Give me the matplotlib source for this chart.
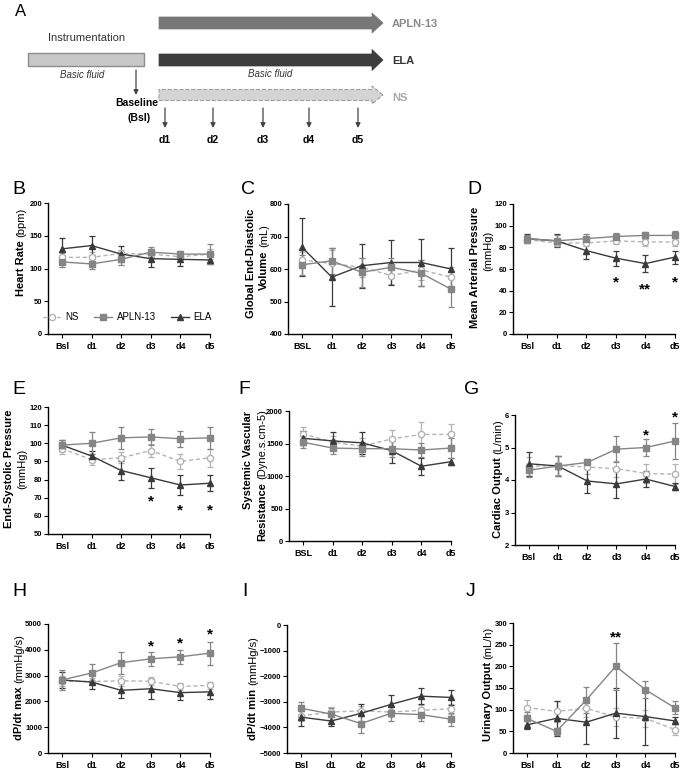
import numpy as np
import matplotlib
matplotlib.use('Agg')
import matplotlib.pyplot as plt
from matplotlib.patches import FancyArrow, Rectangle
from matplotlib.lines import Line2D

plt.rcParams['font.family'] = ['Liberation Sans', 'DejaVu Sans']

W, H = 685, 772

days = ['Bsl', 'd1', 'd2', 'd3', 'd4', 'd5']
days_caps = ['BSL', 'd1', 'd2', 'd3', 'd4', 'd5']
groups = ['NS', 'APLN-13', 'ELA']

# B - heart rate (bpm)
hr_ns = [117, 117, 123, 122, 118, 122]
hr_ns_err = [7, 8, 6, 7, 5, 8]
hr_apln = [110, 107, 114, 125, 122, 122]
hr_apln_err = [8, 8, 9, 8, 5, 15]
hr_ela = [130, 135, 122, 115, 114, 113]
hr_ela_err = [16, 14, 12, 13, 10, 6]

# C - global end-diastolic volume (mL)
gedv_ns = [628, 617, 605, 580, 597, 575]
gedv_ns_err = [25, 40, 30, 25, 30, 30]
gedv_apln = [613, 625, 590, 605, 587, 538]
gedv_apln_err = [30, 40, 45, 30, 40, 55]
gedv_ela = [667, 575, 610, 620, 620, 600]
gedv_ela_err = [90, 90, 68, 70, 73, 65]

# D - mean arterial pressure (mmHg)
map_ns = [87, 84, 84, 86, 85, 85]
map_ns_err = [3, 3, 3, 3, 4, 4]
map_apln = [88, 86, 88, 90, 91, 91]
map_apln_err = [3, 5, 4, 3, 3, 4]
map_ela = [88, 86, 77, 70, 65, 71]
map_ela_err = [4, 6, 8, 7, 7.5, 6]

# E - end-systolic pressure (mmHg)
esp_ns = [97, 91, 92, 96, 90, 92]
esp_ns_err = [3, 3, 3, 3.5, 4, 5]
esp_apln = [99, 100, 103, 103.5, 102.5, 103]
esp_apln_err = [3, 6, 6, 4.5, 4.5, 6]
esp_ela = [99, 93, 85, 81, 77, 78]
esp_ela_err = [3, 3, 5, 5.5, 5.5, 4.5]

# F - systemic vascular resistance
svr_ns = [1650, 1520, 1460, 1570, 1640, 1640]
svr_ns_err = [110, 100, 120, 140, 190, 160]
svr_apln = [1520, 1430, 1420, 1420, 1400, 1430]
svr_apln_err = [90, 90, 110, 120, 110, 150]
svr_ela = [1580, 1540, 1510, 1390, 1150, 1220]
svr_ela_err = [110, 140, 170, 190, 130, 50]

# G - cardiac output (L/min)
co_ns = [4.42, 4.45, 4.4, 4.35, 4.2, 4.18]
co_ns_err = [0.3, 0.3, 0.2, 0.25, 0.3, 0.3]
co_apln = [4.3, 4.43, 4.54, 4.95, 5.0, 5.2]
co_apln_err = [0.2, 0.3, 0.1, 0.4, 0.25, 0.55]
co_ela = [4.5, 4.43, 3.97, 3.88, 4.03, 3.8]
co_ela_err = [0.37, 0.3, 0.38, 0.42, 0.25, 0.1]

# H - dP/dt max (mmHg/s)
dpmax_ns = [2780, 2770, 2800, 2780, 2580, 2620]
dpmax_ns_err = [200, 150, 200, 150, 150, 120]
dpmax_apln = [2830, 3100, 3500, 3650, 3730, 3870]
dpmax_apln_err = [400, 350, 430, 280, 270, 440]
dpmax_ela = [2830, 2750, 2430, 2490, 2340, 2370]
dpmax_ela_err = [300, 280, 300, 380, 300, 280]

# I - dP/dt min (mmHg/s)
dpmin_ns = [-3550, -3400, -3350, -3400, -3330, -3270]
dpmin_ns_err = [200, 200, 200, 200, 200, 200]
dpmin_apln = [-3250, -3480, -3850, -3450, -3500, -3680]
dpmin_apln_err = [250, 250, 350, 300, 250, 250]
dpmin_ela = [-3600, -3750, -3450, -3100, -2780, -2830]
dpmin_ela_err = [350, 200, 350, 380, 300, 280]

# J - urinary output (mL/h)
uo_ns = [105, 96, 103, 83, 80, 54]
uo_ns_err = [18, 25, 20, 20, 20, 12]
uo_apln = [80, 50, 122, 200, 146, 104]
uo_apln_err = [15, 8, 30, 55, 20, 15]
uo_ela = [65, 80, 71, 92, 84, 74]
uo_ela_err = [10, 40, 50, 58, 65, 8]

# significance marks: (day index, text, y)
map_stars = [(3, '*', 52), (4, '**', 46), (5, '*', 52)]
esp_stars = [(3, '*', 70.5), (4, '*', 66), (5, '*', 66)]
co_stars = [(4, '*', 5.52), (5, '*', 6.07)]
dpmax_stars = [(3, '*', 4325), (4, '*', 4430), (5, '*', 4780)]
uo_stars = [(3, '**', 279)]

c_ns, c_apln, c_ela = '#b4b4b4', '#858585', '#3a3a3a'

fig = plt.figure(figsize=(W / 100, H / 100), dpi=100)


def px_axes(l, t, r, b):
    return fig.add_axes([l / W, 1 - b / H, (r - l) / W, (b - t) / H])


def series(ax, y, e, color, marker, mfc, ls, ms):
    x = np.arange(len(y))
    c = ax.errorbar(x, y, yerr=e, color=color, ecolor=color, marker=marker,
                    mfc=mfc, mec=color, ms=ms, ls=ls, lw=1.0, elinewidth=0.9,
                    capsize=2, capthick=0.9)
    if ls == '--':
        c.lines[0].set_dashes([3, 2])
    for a in c.get_children():
        a.set_clip_on(False)


def panel(box, ns, apln, ela, ylim, yticks, xlab=days):
    ax = px_axes(*box)
    series(ax, ns[0], ns[1], c_ns, 'o', 'white', '--', 4.5)
    series(ax, ela[0], ela[1], c_ela, '^', c_ela, '-', 4.5)
    series(ax, apln[0], apln[1], c_apln, 's', c_apln, '-', 4.3)
    ax.set_xlim(-0.47, 5)
    ax.set_ylim(*ylim)
    ax.set_yticks(yticks)
    ax.set_xticks(range(6))
    ax.set_xticklabels(xlab, fontweight='bold', fontsize=6.5)
    for t in ax.get_yticklabels():
        t.set_fontweight('bold')
        t.set_fontsize(5.5)
    ax.tick_params(length=3, width=0.8, pad=1.2)
    ax.tick_params(axis='x', pad=3)
    for s in ['top', 'right']:
        ax.spines[s].set_visible(False)
    for s in ['left', 'bottom']:
        ax.spines[s].set_linewidth(1.0)
    return ax


def stars(ax, marks):
    for i, s, y in marks:
        ax.annotate(s, (i, y), xytext=(0, -6.5), textcoords='offset points',
                    ha='center', va='baseline', fontsize=11, fontweight='bold',
                    annotation_clip=False)


axB = panel((48, 203, 210, 334), (hr_ns, hr_ns_err), (hr_apln, hr_apln_err),
            (hr_ela, hr_ela_err), (0, 200), range(0, 201, 50))
axC = panel((288, 204, 451, 334), (gedv_ns, gedv_ns_err), (gedv_apln, gedv_apln_err),
            (gedv_ela, gedv_ela_err), (400, 800), range(400, 801, 100), days_caps)
axD = panel((513, 204, 675, 334), (map_ns, map_ns_err), (map_apln, map_apln_err),
            (map_ela, map_ela_err), (0, 120), range(0, 121, 20))
axE = panel((48, 407, 210, 534), (esp_ns, esp_ns_err), (esp_apln, esp_apln_err),
            (esp_ela, esp_ela_err), (50, 120), range(50, 121, 10))
axF = panel((289, 411, 451, 541), (svr_ns, svr_ns_err), (svr_apln, svr_apln_err),
            (svr_ela, svr_ela_err), (0, 2000), range(0, 2001, 500), days_caps)
axG = panel((515, 415, 675, 545), (co_ns, co_ns_err), (co_apln, co_apln_err),
            (co_ela, co_ela_err), (2, 6), range(2, 7))
axH = panel((48, 624, 210, 753), (dpmax_ns, dpmax_ns_err), (dpmax_apln, dpmax_apln_err),
            (dpmax_ela, dpmax_ela_err), (0, 5000), range(0, 5001, 1000))
axI = panel((287, 625, 451, 753), (dpmin_ns, dpmin_ns_err), (dpmin_apln, dpmin_apln_err),
            (dpmin_ela, dpmin_ela_err), (-5000, 0), range(-5000, 1, 1000))
axJ = panel((513, 623, 675, 753), (uo_ns, uo_ns_err), (uo_apln, uo_apln_err),
            (uo_ela, uo_ela_err), (0, 300), range(0, 301, 50))

stars(axD, map_stars)
stars(axE, esp_stars)
stars(axG, co_stars)
stars(axH, dpmax_stars)
stars(axJ, uo_stars)

# legend in B
handles = [
    Line2D([], [], color=c_ns, ls='--', dashes=[3, 2], marker='o', mfc='white', mec=c_ns, ms=4.5, lw=1),
    Line2D([], [], color=c_apln, marker='s', mfc=c_apln, mec=c_apln, ms=4.3, lw=1),
    Line2D([], [], color=c_ela, marker='^', mfc=c_ela, mec=c_ela, ms=4.5, lw=1),
]
axB.legend(handles, groups, ncol=3, frameon=False, loc='center',
           bbox_to_anchor=(0.49, 0.13), fontsize=7, handlelength=1.8,
           columnspacing=1.6, handletextpad=0.5)

# y labels with bold / regular parts
renderer = fig.canvas.get_renderer()


def rot_label(x, yc, pieces, size=8, gap=3):
    ts = []
    for s, w in pieces:
        ts.append(fig.text(0, 0, s, rotation=90, fontsize=size, fontweight=w,
                           ha='center', va='bottom'))
    lens = [t.get_window_extent(renderer).height for t in ts]
    total = sum(lens) + gap * (len(ts) - 1)
    y = (H - yc) - total / 2
    for t, L in zip(ts, lens):
        t.set_position((x / W, y / H))
        y += L + gap


ylabels = [
    (21, 252, [('Heart Rate', 'bold'), ('(bpm)', 'normal')]),
    (251, 263, [('Global End-Diastolic', 'bold')]),
    (264, 257, [('Volume', 'bold'), ('(mL)', 'normal')]),
    (475, 267, [('Mean Arterial Pressure', 'bold')]),
    (488, 251, [('(mmHg)', 'normal')]),
    (9, 469, [('End-Systolic Pressure', 'bold')]),
    (22, 469, [('(mmHg)', 'normal')]),
    (248, 460, [('Systemic Vascular', 'bold')]),
    (262, 475, [('Resistance', 'bold'), ('(Dyne.s.cm-5)', 'normal')]),
    (498, 479, [('Cardiac Output', 'bold'), ('(L/min)', 'normal')]),
    (19, 687, [('dP/dt max', 'bold'), ('(mmHg/s)', 'normal')]),
    (253, 688, [('dP/dt min', 'bold'), ('(mmHg/s)', 'normal')]),
    (488, 684, [('Urinary Output', 'bold'), ('(mL/h)', 'normal')]),
]
for x, yc, pieces in ylabels:
    rot_label(x, yc, pieces)

letters = [('A', 21, 11, 12), ('B', 19, 190, 14), ('C', 248, 190, 14), ('D', 474, 190, 14),
           ('E', 19, 390, 14), ('F', 244, 390, 14), ('G', 472, 390, 14),
           ('H', 19, 591, 14), ('I', 245, 591, 14), ('J', 471, 591, 14)]
for s, x, y, fs in letters:
    fig.text(x / W, 1 - y / H, s, fontsize=fs, ha='center', va='center')

# panel A schematic (pixel coordinates)
axA = fig.add_axes([0, 1 - 150 / H, 1, 150 / H])
axA.set_xlim(0, W)
axA.set_ylim(150, 0)
axA.axis('off')

axA.add_patch(FancyArrow(159, 23, 224, 0, width=12, head_width=20, head_length=11,
                         length_includes_head=True, fc='#777777', ec='#777777', lw=0.5))
axA.add_patch(FancyArrow(159, 60, 224, 0, width=12, head_width=21, head_length=11,
                         length_includes_head=True, fc='#3c3c3c', ec='#3c3c3c', lw=0.5))
axA.add_patch(FancyArrow(159, 95, 224, 0, width=11, head_width=18, head_length=11,
                         length_includes_head=True, fc='#d4d4d4', ec='#a0a0a0',
                         lw=0.8, ls='--'))
axA.add_patch(Rectangle((28, 53), 116, 13, fc='#c8c8c8', ec='#8c8c8c', lw=1))

axA.text(392, 24, 'APLN-13', fontsize=8, fontweight='bold', color='#8a8a8a', va='center')
axA.text(392, 61, 'ELA', fontsize=8, fontweight='bold', color='#333333', va='center')
axA.text(392, 98, 'NS', fontsize=8, fontweight='bold', color='#aaaaaa', va='center')
axA.text(87, 38, 'Instrumentation', fontsize=8, color='#333333', ha='center', va='center')
axA.text(82, 75, 'Basic fluid', fontsize=7, style='italic', color='#333333', ha='center', va='center')
axA.text(270, 74, 'Basic fluid', fontsize=7, style='italic', color='#333333', ha='center', va='center')
axA.text(137, 103, 'Baseline', fontsize=7.5, fontweight='bold', ha='center', va='center')
axA.text(139, 118, '(Bsl)', fontsize=7.5, fontweight='bold', ha='center', va='center')

arrow_style = dict(arrowstyle='-|>', color='#444444', lw=0.9, mutation_scale=7,
                   shrinkA=0, shrinkB=0)
axA.annotate('', xy=(136, 95), xytext=(136, 70), arrowprops=arrow_style)
day_x = [165, 213, 263, 309, 358]
for x, d in zip(day_x, days[1:]):
    axA.annotate('', xy=(x, 128), xytext=(x, 108), arrowprops=arrow_style)
    axA.text(x, 140, d, fontsize=7.5, fontweight='bold', ha='center', va='center')

fig.savefig('out.png', dpi=100)
